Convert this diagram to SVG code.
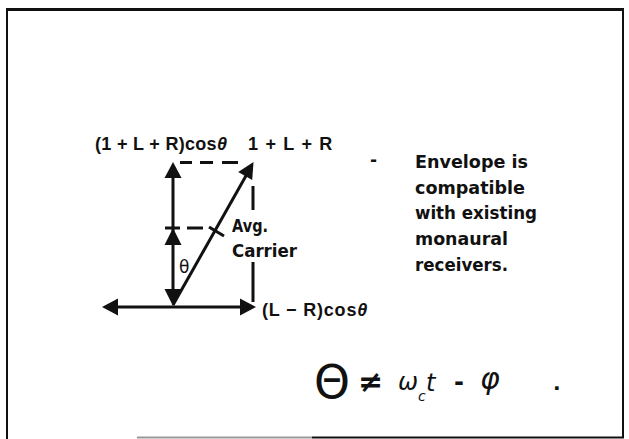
<svg xmlns="http://www.w3.org/2000/svg" width="629" height="439" viewBox="0 0 629 439">
<defs>
<style>
.lbl{font-family:"DejaVu Sans","Liberation Sans",sans-serif;font-weight:bold;font-size:17px;fill:#111}
.lbl2{font-family:"Liberation Sans",Arial,sans-serif;font-weight:bold;font-size:18px;fill:#111}
.hand{font-family:"DejaVu Sans","Liberation Sans",sans-serif;fill:#111}
.solid{stroke:#111;stroke-width:3;fill:none}
.dash{stroke:#111;stroke-width:3;fill:none}
.head{fill:#111}
.frame{stroke:#111;fill:none}
</style>
</defs>
<rect width="629" height="439" fill="#fff"/>
<g id="frame">
<line class="frame" x1="6" y1="9.5" x2="624" y2="9.5" stroke-width="3"/>
<line class="frame" x1="7" y1="9" x2="7" y2="439" stroke-width="2"/>
<line class="frame" x1="623" y1="8" x2="623" y2="438" stroke-width="2"/>
<line x1="137" y1="437.5" x2="312" y2="437.5" stroke="#999" stroke-width="2"/>
<line class="frame" x1="312" y1="437.5" x2="624" y2="437.5" stroke-width="2"/>
</g>
<g id="connectors">
<line class="solid" x1="173" y1="176" x2="173" y2="292"/>
<polygon class="head" points="173,162 164.5,178 181.5,178"/>
<polygon class="head" points="173,228 164.5,245 181.5,245"/>
<polygon class="head" points="173,306 164.5,289 181.5,289"/>
<line class="solid" x1="116" y1="307" x2="241" y2="307"/>
<polygon class="head" points="102,307 118,298.5 118,315.5"/>
<polygon class="head" points="256,307 240,298.5 240,315.5"/>
<line class="solid" x1="173" y1="305" x2="247" y2="174"/>
<polygon class="head" points="253.5,162 252.2,180 238.2,172.1"/>
<path class="dash" d="M180,162.5H192M200,162.5H213M222,162.5H238"/>
<path class="dash" d="M253,186V210M253,262V302"/>
<path class="dash" d="M165,228H180M187,228H203"/>
<line class="solid" x1="209" y1="227" x2="224" y2="236" stroke-width="2.5"/>
</g>
<g id="labels">
<text class="lbl2" x="95" y="150" letter-spacing="0.3">(1 + L + R)cos<tspan font-style="italic">θ</tspan></text>
<text class="lbl2" x="248" y="150" letter-spacing="1.2">1 + L + R</text>
<text class="lbl" x="232" y="232" textLength="36" lengthAdjust="spacingAndGlyphs">Avg.</text>
<text class="lbl" x="232" y="257" textLength="65" lengthAdjust="spacingAndGlyphs">Carrier</text>
<text class="hand" x="179" y="273" font-size="17">θ</text>
<text class="lbl2" x="262" y="316" font-size="19" letter-spacing="0.8">(L − R)cos<tspan font-style="italic">θ</tspan></text>
</g>
<g id="note">
<text class="lbl" x="370" y="166">-</text>
<text class="lbl" x="415" y="168" textLength="113" lengthAdjust="spacingAndGlyphs">Envelope is</text>
<text class="lbl" x="415" y="194" textLength="110" lengthAdjust="spacingAndGlyphs">compatible</text>
<text class="lbl" x="415" y="219" textLength="122" lengthAdjust="spacingAndGlyphs">with existing</text>
<text class="lbl" x="415" y="245" textLength="93" lengthAdjust="spacingAndGlyphs">monaural</text>
<text class="lbl" x="415" y="271" textLength="93" lengthAdjust="spacingAndGlyphs">receivers.</text>
</g>
<g id="formula">
<text class="hand" x="314" y="398" font-size="46" textLength="36" lengthAdjust="spacingAndGlyphs">Θ</text>
<text class="hand" x="358" y="392" font-size="30" font-weight="bold">≠</text>
<text class="hand" x="398" y="390" font-size="24" font-style="italic">ω</text>
<text class="hand" x="418" y="401" font-size="14" font-style="italic">c</text>
<text class="hand" x="426" y="391" font-size="24" font-style="italic">t</text>
<text class="hand" x="454" y="390" font-size="24" font-weight="bold">-</text>
<text class="hand" x="480" y="389" font-size="30" font-style="italic">φ</text>
<text class="hand" x="553" y="390" font-size="20" font-weight="bold">.</text>
</g>
</svg>
